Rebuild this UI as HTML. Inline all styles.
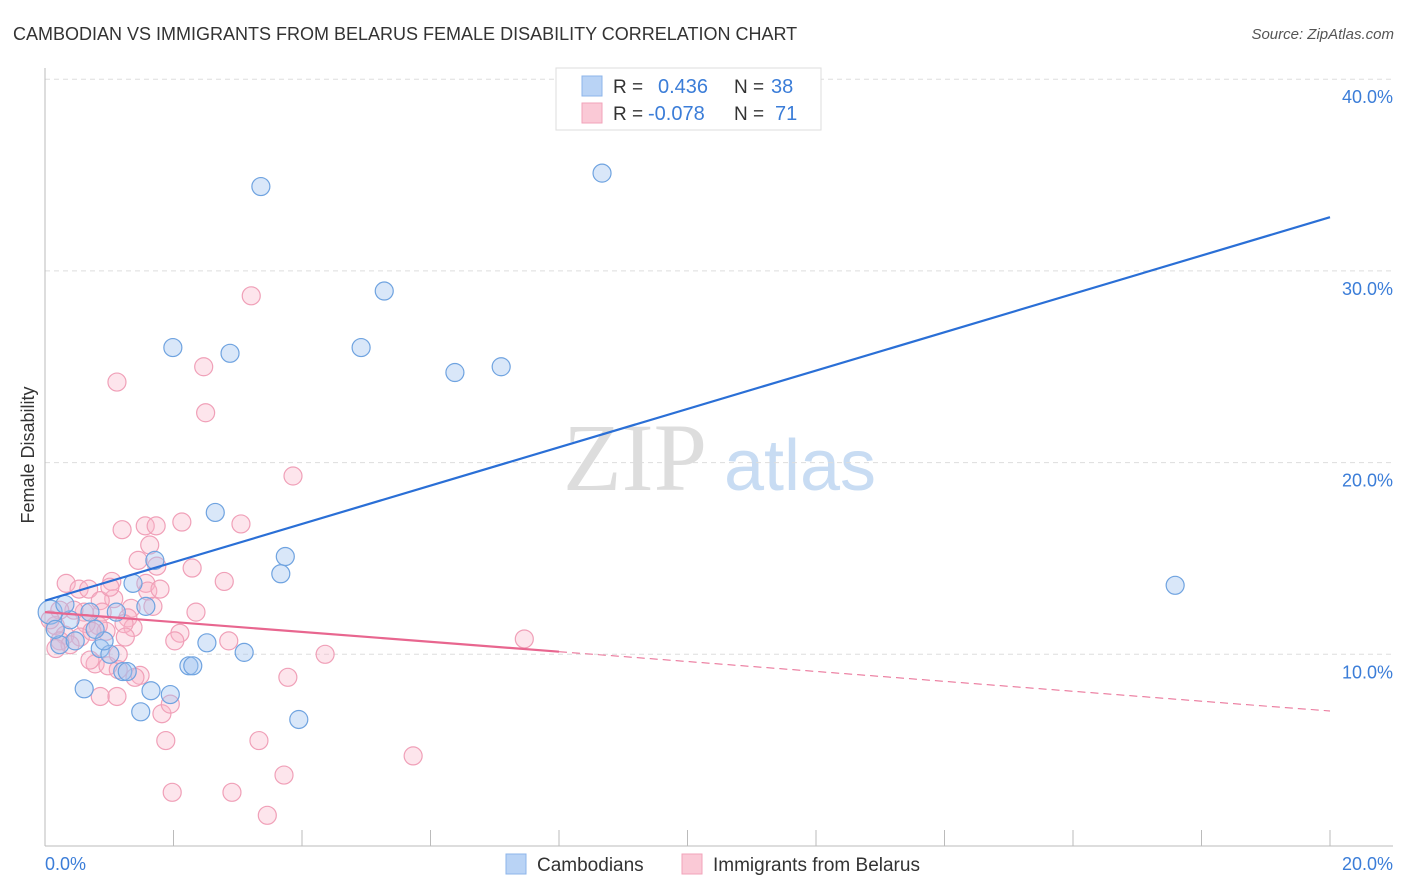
<!DOCTYPE html>
<html><head><meta charset="utf-8"><style>
body{margin:0;background:#fff;font-family:"Liberation Sans",sans-serif;}
svg{display:block}
</style></head><body>
<svg id="chart" width="1406" height="892" xmlns="http://www.w3.org/2000/svg" font-family="Liberation Sans, sans-serif">
<text x="13" y="40" font-size="18" fill="#333">CAMBODIAN VS IMMIGRANTS FROM BELARUS FEMALE DISABILITY CORRELATION CHART</text>
<text x="1394" y="39" font-size="15" fill="#555" font-style="italic" text-anchor="end">Source: ZipAtlas.com</text>
<g>
<text x="635" y="490" font-size="96" font-family="Liberation Serif, serif" fill="#ddd" text-anchor="middle">ZIP</text>
<text x="800" y="490" font-size="72" fill="#c8dcf3" text-anchor="middle">atlas</text>
</g>
<g id="grid"></g>
<g id="axes"></g>
<g id="pts"></g>
<g id="lines"></g>
<text transform="translate(34,455) rotate(-90)" font-size="18" fill="#333" text-anchor="middle">Female Disability</text>
<text x="45" y="870" font-size="18" fill="#3b7dd8">0.0%</text>
<text x="1393" y="870" font-size="18" fill="#3b7dd8" text-anchor="end">20.0%</text>
<g>
<rect x="556" y="68" width="265" height="62" fill="#fff" stroke="#ddd"/>
<rect x="582" y="76" width="20" height="20" fill="#b9d3f5" stroke="#8db5ea"/>
<rect x="582" y="103" width="20" height="20" fill="#fac9d6" stroke="#f2a3ba"/>
<text x="613" y="93" font-size="19" fill="#333">R = </text><text x="658" y="93" font-size="20" fill="#3b7dd8">0.436</text>
<text x="734" y="93" font-size="19" fill="#333">N = </text><text x="771" y="93" font-size="20" fill="#3b7dd8">38</text>
<text x="613" y="120" font-size="19" fill="#333">R = </text><text x="648" y="120" font-size="20" fill="#3b7dd8">-0.078</text>
<text x="734" y="120" font-size="19" fill="#333">N = </text><text x="775" y="120" font-size="20" fill="#3b7dd8">71</text>
</g>
<g>
<rect x="506" y="854" width="20" height="20" fill="#b9d3f5" stroke="#8db5ea"/>
<text x="537" y="871" font-size="19" fill="#333">Cambodians</text>
<rect x="682" y="854" width="20" height="20" fill="#fac9d6" stroke="#f2a3ba"/>
<text x="713" y="871" font-size="19" fill="#333">Immigrants from Belarus</text>
</g>
</svg>
<script>
const yTicks=[10,20,30,40];
const yTickLabels=["10.0%","20.0%","30.0%","40.0%"];
const blueX=[3.36,8.67,1.99,2.88,4.92,5.28,6.38,7.10,17.59,2.65,3.74,3.67,1.71,1.37,1.57,1.11,0.70,0.08,0.23,0.86,1.01,0.92,0.61,1.21,1.28,1.65,1.95,1.49,2.24,2.30,2.52,3.10,3.95,0.47,0.39,0.16,0.78,0.31];
const blueY=[34.4,35.1,26.0,25.7,26.0,28.95,24.7,25.0,13.6,17.4,15.1,14.2,14.9,13.7,12.5,12.2,12.2,12.2,10.5,10.3,10.0,10.7,8.2,9.1,9.1,8.1,7.9,7.0,9.4,9.4,10.6,10.1,6.6,10.7,11.8,11.3,11.3,12.6];
const pinkX=[3.21,1.12,2.47,2.50,3.86,1.20,1.56,1.73,2.13,3.05,1.63,1.74,2.29,2.79,1.45,0.33,0.53,0.68,1.04,1.57,1.60,1.07,1.34,1.68,2.35,0.86,0.61,0.45,1.29,1.37,1.23,0.95,0.83,0.64,0.23,0.16,0.31,0.55,0.73,1.25,2.10,2.02,2.86,7.46,0.78,0.98,1.48,1.40,4.36,3.78,0.86,1.12,1.82,1.95,1.88,3.33,5.73,3.72,1.98,2.91,3.46,1.01,0.23,0.39,0.08,1.14,0.70,0.17,0.89,1.14,1.79];
const pinkY=[28.7,24.2,25.0,22.6,19.3,16.5,16.7,16.7,16.9,16.8,15.7,14.6,14.5,13.8,14.9,13.7,13.4,13.4,13.8,13.7,13.3,12.9,12.4,12.5,12.2,12.8,12.2,12.3,11.9,11.4,11.6,11.2,11.5,11.6,12.3,11.5,11.0,10.9,11.2,10.9,11.1,10.7,10.7,10.8,9.5,9.4,8.9,8.8,10.0,8.8,7.8,7.8,6.9,7.4,5.5,5.5,4.7,3.7,2.8,2.8,1.6,13.5,10.7,10.5,11.8,9.2,9.7,10.3,12.2,10.0,13.4];
const blueTrend=[12.8,32.8];
const pinkTrend=[12.2,7.04];
const pinkSolidEnd=8;
const NS="http://www.w3.org/2000/svg";
const X=v=>45+v/20*1285, Y=v=>846-v*19.17;
function mk(t,a,p){const e=document.createElementNS(NS,t);for(const k in a)e.setAttribute(k,a[k]);document.getElementById(p).appendChild(e);return e;}
yTicks.forEach((t,i)=>{
 const l=mk('line',{x1:45,x2:1393,y1:Y(t),y2:Y(t),stroke:'#ddd','stroke-dasharray':'5,4'},'grid');
 
 
 const tx=mk('text',{x:1393,y:Y(t)+24,'font-size':18,fill:'#3b7dd8','text-anchor':'end'},'grid');
 tx.textContent=yTickLabels[i];
 
 
});
const ax=mk('line',{x1:45,x2:45,y1:68,y2:846,stroke:'#bbb'},'axes');


const bx=mk('line',{x1:45,x2:1393,y1:846,y2:846,stroke:'#bbb'},'axes');


for(let i=1;i<=10;i++){const t=mk('line',{x1:X(i*2),x2:X(i*2),y1:830,y2:846,stroke:'#bbb'},'axes');
 
 }
pinkX.forEach((x,i)=>{const c=mk('circle',{cx:X(x),cy:Y(pinkY[i]),r:9,fill:'rgba(248,180,200,0.35)',stroke:'#f0a0b8','stroke-width':1.2},'pts');
 
 });
blueX.forEach((x,i)=>{const c=mk('circle',{cx:X(x),cy:Y(blueY[i]),r:i==17?12:9,fill:'rgba(160,196,240,0.4)',stroke:'#6fa3e0','stroke-width':1.2},'pts');
 
 });
const bl=mk('line',{x1:X(0),y1:Y(blueTrend[0]),x2:X(20),y2:Y(blueTrend[1]),stroke:'#2a6fd6','stroke-width':2.2},'lines');


const pAt=x=>pinkTrend[0]+(pinkTrend[1]-pinkTrend[0])*x/20;
const pl=mk('line',{x1:X(0),y1:Y(pAt(0)),x2:X(pinkSolidEnd),y2:Y(pAt(pinkSolidEnd)),stroke:'#e8668f','stroke-width':2.2},'lines');


const pd=mk('line',{x1:X(pinkSolidEnd),y1:Y(pAt(pinkSolidEnd)),x2:X(20),y2:Y(pAt(20)),stroke:'#e8668f','stroke-width':1,'stroke-dasharray':'8,5'},'lines');


</script>
</body></html>
